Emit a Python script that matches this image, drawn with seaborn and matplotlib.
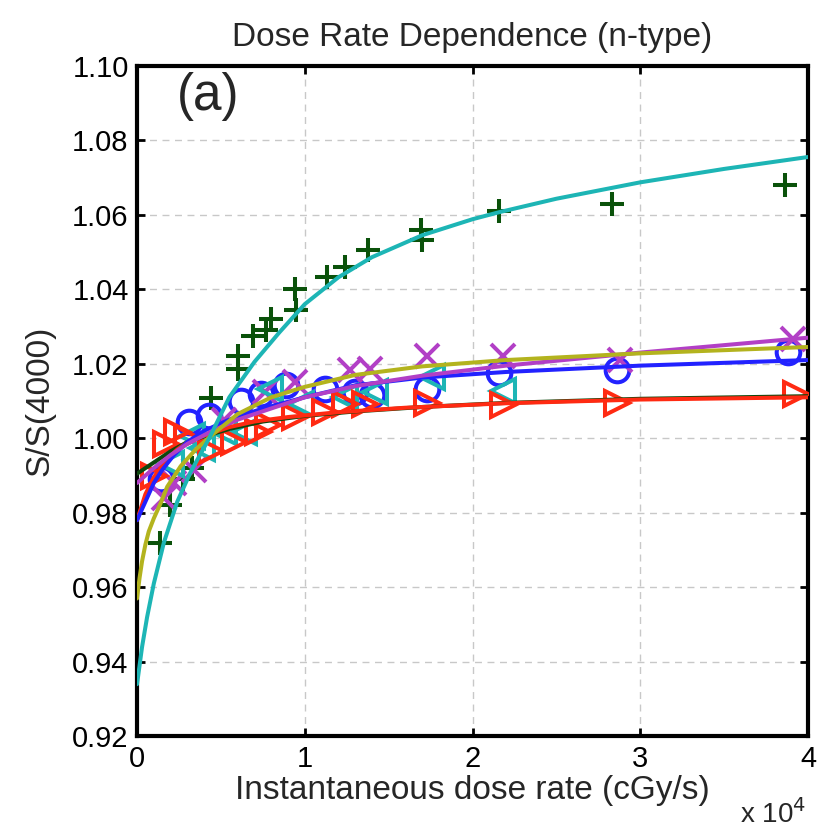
import matplotlib
matplotlib.use("Agg")
import matplotlib.pyplot as plt
import seaborn as sns

# dose rate in units of 1e4 cGy/s
# green "+" points and cyan fit
plus_x = [0.135, 0.195, 0.276, 0.33, 0.44, 0.60, 0.60, 0.69, 0.77, 0.80, 0.94, 0.95,
          1.13, 1.24, 1.375, 1.69, 1.70, 2.16, 2.83, 3.86]
plus_y = [0.972, 0.982, 0.989, 0.992, 1.0108, 1.022, 1.0185, 1.0274, 1.029, 1.032, 1.040, 1.0345,
          1.0434, 1.046, 1.0505, 1.0558, 1.0531, 1.061, 1.063, 1.068]

# blue circles
circ_x = [0.14, 0.31, 0.43, 0.62, 0.74, 0.89, 1.12, 1.30, 1.40, 1.73, 2.16, 2.86, 3.88]
circ_y = [0.989, 1.0043, 1.006, 1.010, 1.012, 1.0142, 1.0133, 1.0125, 1.0116, 1.0133, 1.0175, 1.0182, 1.0231]

# magenta crosses
xm_x = [0.16, 0.22, 0.34, 0.52, 0.76, 0.94, 1.27, 1.39, 1.73, 2.18, 2.88, 3.91]
xm_y = [0.984, 0.988, 0.9916, 1.005, 1.0125, 1.0151, 1.0182, 1.0187, 1.0222, 1.0222, 1.021, 1.0267]

# cyan left triangles
lt_x = [0.20, 0.33, 0.39, 0.52, 0.64, 0.79, 0.98, 1.24, 1.42, 1.76, 2.18]
lt_y = [0.993, 1.0005, 0.9973, 1.0018, 1.0018, 1.0133, 1.0093, 1.0111, 1.0125, 1.0165, 1.0128]

# red right triangles
rt_x = [0.10, 0.17, 0.24, 0.30, 0.44, 0.58, 0.72, 0.78, 0.94, 1.12, 1.24, 1.36, 1.73, 2.18, 2.86, 3.93]
rt_y = [0.990, 0.9985, 1.0018, 1.000, 0.9965, 0.9991, 1.0018, 1.0036, 1.0058, 1.0071, 1.0093, 1.0093,
        1.0095, 1.009, 1.0095, 1.012]

# fitted curves
cyan_fx = [0, 0.03, 0.06, 0.1, 0.16, 0.24, 0.32, 0.43, 0.55, 0.7, 0.85, 1.0, 1.2, 1.4, 1.7, 2.0,
           2.16, 2.5, 3.0, 3.5, 4.0]
cyan_fy = [0.934, 0.944, 0.952, 0.961, 0.972, 0.983, 0.991, 1.000, 1.011, 1.0205, 1.0285, 1.036,
           1.0432, 1.0486, 1.0545, 1.0588, 1.0607, 1.0643, 1.0687, 1.0723, 1.0755]

olive_fx = [0, 0.015, 0.03, 0.05, 0.07, 0.1, 0.14, 0.18, 0.26, 0.35, 0.45, 0.6, 0.8, 1.0, 1.3, 1.7,
            2.2, 3.0, 4.0]
olive_fy = [0.957, 0.9625, 0.967, 0.9715, 0.975, 0.9785, 0.9825, 0.987, 0.9925, 0.997, 1.001, 1.0065,
            1.011, 1.0138, 1.017, 1.0193, 1.021, 1.0228, 1.0245]

mag_fx = [0, 0.1, 0.2, 0.3, 0.45, 0.6, 0.8, 1.0, 1.3, 1.7, 2.2, 3.0, 4.0]
mag_fy = [0.988, 0.992, 0.9955, 0.9985, 1.002, 1.005, 1.008, 1.011, 1.014, 1.0168, 1.0195, 1.023, 1.027]

blue_fx = [0, 0.05, 0.1, 0.15, 0.22, 0.3, 0.4, 0.55, 0.75, 1.0, 1.3, 1.7, 2.2, 3.0, 4.0]
blue_fy = [0.978, 0.983, 0.988, 0.9915, 0.9955, 0.999, 1.002, 1.005, 1.008, 1.011, 1.0142, 1.0163,
           1.0178, 1.0195, 1.021]

red_fx = [0, 0.05, 0.1, 0.16, 0.24, 0.32, 0.42, 0.55, 0.7, 0.9, 1.2, 1.6, 2.2, 3.0, 4.0]
red_fy = [0.978, 0.985, 0.9895, 0.9935, 0.997, 0.9995, 1.001, 1.003, 1.0045, 1.0057, 1.007, 1.0082,
          1.0094, 1.0104, 1.011]

dkg_fx = [0, 0.1, 0.2, 0.3, 0.4, 0.55, 0.75, 1.0, 1.3, 1.7, 2.2, 3.0, 4.0]
dkg_fy = [0.9905, 0.9935, 0.9965, 0.999, 1.0005, 1.0025, 1.0045, 1.006, 1.0072, 1.0084, 1.0095,
          1.0106, 1.0113]

sns.set_style("white")
plt.rcParams['font.family'] = ['Liberation Sans', 'DejaVu Sans']

fig = plt.figure(figsize=(8.29, 8.32), dpi=100)
ax = fig.add_axes([0.1653, 0.115, 0.8094, 0.806])

green = '#0a520a'
cyan = '#1db5b5'
blue = '#2222ff'
magenta = '#b23fc6'
olive = '#b3b31e'
red = '#ff2a12'
dkgreen = '#0d470d'

mk = dict(linestyle='none', markersize=17, markeredgewidth=2.9, fillstyle='none', zorder=3)
ax.plot(plus_x, plus_y, marker='+', color=green, **mk)
ax.plot(circ_x, circ_y, marker='o', color=blue, **mk)
ax.plot(xm_x, xm_y, marker='x', color=magenta, **mk)
ax.plot(lt_x, lt_y, marker='<', color=cyan, **mk)
ax.plot(rt_x, rt_y, marker='>', color=red, **mk)

lw = 2.9
sns.lineplot(x=dkg_fx, y=dkg_fy, color=dkgreen, lw=lw, sort=False, estimator=None, ax=ax, zorder=4)
sns.lineplot(x=red_fx, y=red_fy, color=red, lw=lw, sort=False, estimator=None, ax=ax, zorder=4)
sns.lineplot(x=blue_fx, y=blue_fy, color=blue, lw=lw, sort=False, estimator=None, ax=ax, zorder=4)
sns.lineplot(x=mag_fx, y=mag_fy, color=magenta, lw=lw, sort=False, estimator=None, ax=ax, zorder=4)
sns.lineplot(x=olive_fx, y=olive_fy, color=olive, lw=lw, sort=False, estimator=None, ax=ax, zorder=4)
sns.lineplot(x=cyan_fx, y=cyan_fy, color=cyan, lw=lw, sort=False, estimator=None, ax=ax, zorder=4)

ax.set_xlim(0, 4)
ax.set_ylim(0.92, 1.10)
ax.set_xticks([0, 1, 2, 3, 4])
ax.set_xticklabels(['0', '1', '2', '3', '4'])
yt = [0.92 + 0.02 * i for i in range(10)]
ax.set_yticks(yt)
ax.set_yticklabels([f'{v:.2f}' for v in yt])
ax.grid(True, linestyle=(0, (5, 4)), color='#c8c8c8', lw=1.0)
ax.tick_params(direction='in', length=6, width=2, labelsize=21, pad=6,
               top=True, right=True, bottom=True, left=True, colors='black')
for s in ax.spines.values():
    s.set_linewidth(3)
    s.set_color('black')

ax.set_title('Dose Rate Dependence (n-type)', fontsize=24, pad=14)
ax.set_xlabel('Instantaneous dose rate (cGy/s)', fontsize=24, labelpad=2)
ax.set_ylabel('S/S(4000)', fontsize=24, labelpad=12)
ax.text(0.06, 0.99, '(a)', transform=ax.transAxes, fontsize=37, va='top', ha='left')
fig.text(0.893, 0.004, r'x 10$^{4}$', fontsize=20, ha='left', va='bottom')

fig.savefig('out.png', dpi=100)
